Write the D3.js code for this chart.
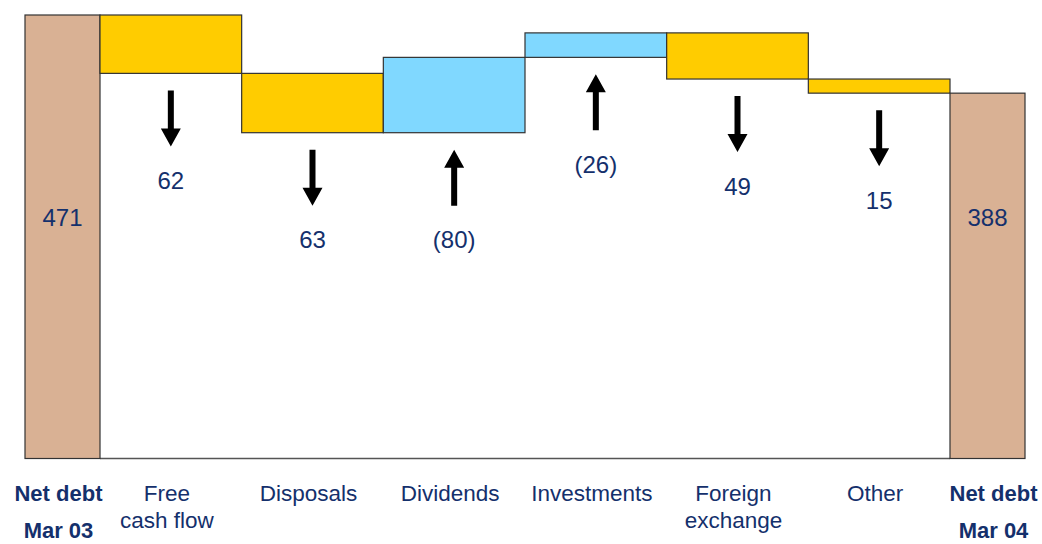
<!DOCTYPE html>
<html>
<head>
<meta charset="utf-8">
<script src="https://cdn.jsdelivr.net/npm/d3@7"></script>
<style>
  html, body { margin: 0; padding: 0; background: #fff; }
  svg { display: block; }
</style>
</head>
<body>
<svg id="chart" width="1042" height="544"></svg>
<script>
// ---- Data ----
const categories = [
  ["Net debt", "Mar 03"],
  ["Free", "cash flow"],
  ["Disposals"],
  ["Dividends"],
  ["Investments"],
  ["Foreign", "exchange"],
  ["Other"],
  ["Net debt", "Mar 04"]
];
const changes = [471, -62, -63, 80, 26, -49, -15, 388];
const valueLabels = ["471", "62", "63", "(80)", "(26)", "49", "15", "388"];
const kinds = ["total", "decrease", "decrease", "increase", "increase", "decrease", "decrease", "total"];

// ---- Layout ----
const endW = 0.5294;           // width of the total bars relative to a step
const colors = { total: "#D9B194", decrease: "#FFCC00", increase: "#80D8FF" };
const textColor = "#14306C";

// build bar extents in data units
let running = 0;
const bars = changes.map((v, i) => {
  const k = kinds[i];
  let x0, x1, lo, hi;
  if (i === 0) { x0 = -endW; x1 = 0; }
  else if (i === changes.length - 1) { x0 = changes.length - 2; x1 = x0 + endW; }
  else { x0 = i - 1; x1 = i; }
  if (k === "total") { lo = 0; hi = v; running = v; }
  else { const s = running; running = s + v; lo = Math.min(s, running); hi = Math.max(s, running); }
  return { i, k, x0, x1, lo, hi, label: valueLabels[i], cat: categories[i] };
});

const x = d3.scaleLinear().domain([-endW, changes.length - 2 + endW]).range([25, 1025]);
const y = d3.scaleLinear().domain([0, 471]).range([458.5, 15]);

const svg = d3.select("#chart");

// baseline
svg.append("line")
  .attr("x1", x(0)).attr("x2", x(changes.length - 2))
  .attr("y1", y(0)).attr("y2", y(0))
  .attr("stroke", "#555").attr("stroke-width", 1.5);

// bars
svg.selectAll("rect.bar").data(bars).enter().append("rect")
  .attr("class", "bar")
  .attr("x", d => x(d.x0))
  .attr("width", d => x(d.x1) - x(d.x0))
  .attr("y", d => y(d.hi))
  .attr("height", d => y(d.lo) - y(d.hi))
  .attr("fill", d => colors[d.k])
  .attr("stroke", "#333")
  .attr("stroke-width", 1.2);

// arrows & value labels for the steps
const arrowLen = 56, headLen = 18, headHalf = 10, shaftHalf = 3, gap = 17, labelGap = 34;
const steps = bars.filter(d => d.k !== "total");

function arrowPath(down) {
  if (down) {
    return `M${-shaftHalf},0 L${shaftHalf},0 L${shaftHalf},${arrowLen - headLen} L${headHalf},${arrowLen - headLen} L0,${arrowLen} L${-headHalf},${arrowLen - headLen} L${-shaftHalf},${arrowLen - headLen} Z`;
  }
  return `M0,0 L${headHalf},${headLen} L${shaftHalf},${headLen} L${shaftHalf},${arrowLen} L${-shaftHalf},${arrowLen} L${-shaftHalf},${headLen} L${-headHalf},${headLen} Z`;
}

steps.forEach(d => {
  const cx = (x(d.x0) + x(d.x1)) / 2;
  const top = y(d.lo) + gap;
  svg.append("path")
    .attr("d", arrowPath(d.k === "decrease"))
    .attr("transform", `translate(${cx},${top})`)
    .attr("fill", "#000");
  svg.append("text")
    .attr("x", cx)
    .attr("y", top + arrowLen + labelGap + 8.5)
    .attr("text-anchor", "middle")
    .attr("font-family", "Liberation Sans, Arial, sans-serif")
    .attr("font-size", 24)
    .attr("fill", textColor)
    .text(d.label);
});

// total labels
bars.filter(d => d.k === "total").forEach(d => {
  const cx = (x(d.x0) + x(d.x1)) / 2;
  svg.append("text")
    .attr("x", cx)
    .attr("y", 225.7)
    .attr("text-anchor", "middle")
    .attr("font-family", "Liberation Sans, Arial, sans-serif")
    .attr("font-size", 24)
    .attr("fill", textColor)
    .text(d.label);
});

// category labels
bars.forEach(d => {
  const cx = (x(d.x0) + x(d.x1)) / 2 - 4;
  const isTotal = d.k === "total";
  const t = svg.append("text")
    .attr("text-anchor", "middle")
    .attr("font-family", "Liberation Sans, Arial, sans-serif")
    .attr("font-size", isTotal ? 22 : 22.5)
    .attr("font-weight", isTotal ? "bold" : "normal")
    .attr("fill", textColor);
  d.cat.forEach((line, j) => {
    t.append("tspan")
      .attr("x", isTotal && d.i === changes.length - 1 ? cx + 10 : cx)
      .attr("y", isTotal ? 501 + j * 37 : 500.5 + j * 27)
      .text(line);
  });
});
</script>
</body>
</html>
